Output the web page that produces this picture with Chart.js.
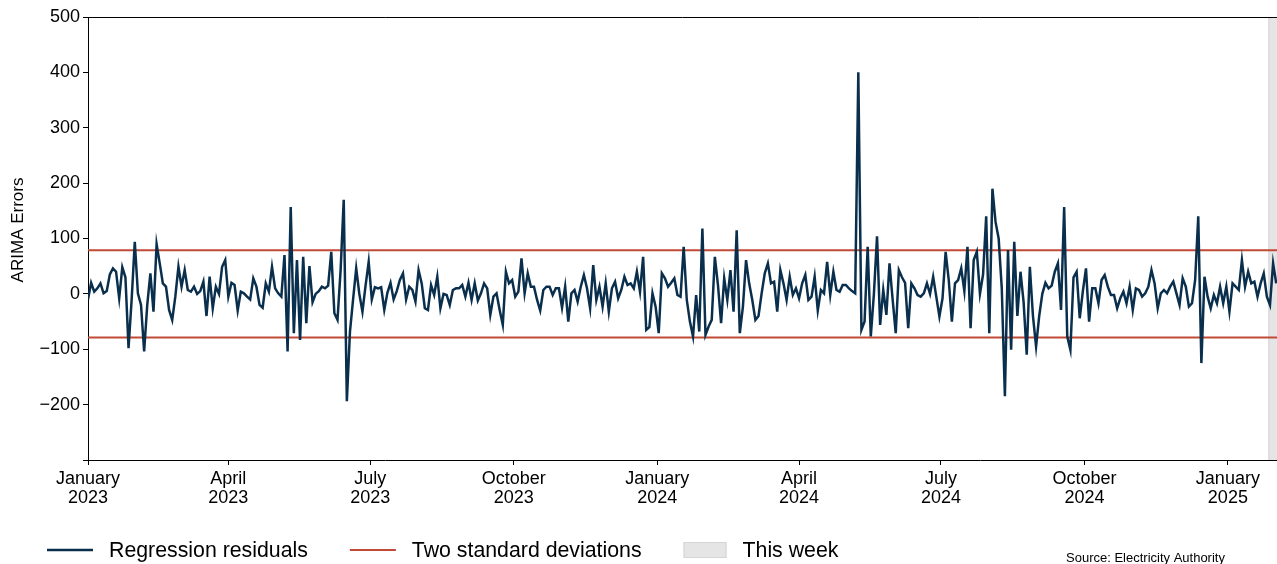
<!DOCTYPE html>
<html>
<head>
<meta charset="utf-8">
<script src="https://cdn.jsdelivr.net/npm/chart.js@4.4.1/dist/chart.umd.min.js"></script>
<style>
  html, body { margin: 0; padding: 0; background: #fff; }
</style>
</head>
<body>
<canvas id="chart" width="1277" height="564"></canvas>
<script>
// ARIMA regression residuals, one reading every second day from 1 Jan 2023
const startDate = '2023-01-01';
const stepDays = 2;
const residuals = [
  -10, 20, 4, 10, 19, 1, 5, 35, 46, 40, -8, 48, 30, -98, -10, 94, 1, -20, -104, -20, 37, -32, 90, 55, 19, 13, -29, -47, -5, 49, 13, 43, 7, 4, 13,
  0, 5, 22, -40, 31, -26, 13, 0, 49, 61, -5, 20, 16, -30, 4, 1, -5, -10, 28, 13, -20, -25, 19, 4, 49, 10, 1, -5, 70, -104, 157, -71, 61, -83, 67,
  -53, 50, -15, 0, 5, 13, 10, 15, 76, -35, -47, 43, 170, -194, -68, -10, 46, 0, -32, 15, 58, -10, 12, 10, 12, -29, 2, 20, -10, 5, 25, 37, -10, 13, 7,
  -14, 43, 19, -26, -29, 16, -2, 31, -26, 0, -2, -20, 7, 10, 10, 16, -5, 20, -11, 19, -12, 1, 19, 10, -38, -5, 1, -29, -56, 40, 19, 25, -5, 4, 64,
  1, 37, 13, 13, -11, -30, 7, 13, 13, -2, 10, 10, -25, 13, -50, 1, 7, -14, 13, 34, 10, -26, 52, -11, 13, -23, 19, -32, 10, 22, -8, 7, 31, 16, 19,
  10, 40, 4, 67, -65, -60, 1, -23, -71, 37, 28, 13, 20, 28, -2, -5, 85, -11, -50, -77, -2, -68, 118, -74, -59, -47, 67, 16, -53, 28, -11, 43, -32, 115, -71,
  -23, 61, 19, -11, -47, -40, 1, 37, 55, 19, 22, -32, 43, 19, -11, 31, -2, 10, -8, 19, 34, -11, -5, 31, -30, 7, 1, 58, -2, 40, 7, 4, 16, 16, 10,
  5, 1, 400, -65, -50, 85, -77, 0, 104, -56, 7, -38, 55, -10, -71, 43, 30, 20, -62, 19, 10, -2, -5, 1, 19, 0, 31, -5, -41, -8, 76, 25, -50, 19, 25,
  46, 5, 85, -62, 61, 76, 0, 35, 140, -71, 190, 130, 100, 10, -185, 79, -101, 94, -40, 40, -15, -110, 49, -40, -95, -40, 0, 20, 10, 15, 40, 55, -29, 157, -77,
  -101, 30, 40, -44, 5, 46, -50, 10, 10, -17, 25, 34, 13, -2, -2, -26, -8, 4, -17, 13, -29, 10, 7, -5, 1, 13, 43, 19, -26, 1, 7, 1, 13, 22, 1,
  -20, 28, 13, -23, -17, 25, 140, -125, 31, -5, -26, -2, -17, 13, -17, 13, -32, 19, 13, 7, 61, 13, 40, 19, 22, -5, 19, 37, -5, -20, 55, 19
];
const twoSd = 79;
const weekDates = ['2025-01-27', '2025-02-02'];
const tickDates = ['2023-01-01', '2023-04-01', '2023-07-01', '2023-10-01', '2024-01-01', '2024-04-01', '2024-07-01', '2024-10-01', '2025-01-01'];
const monthNames = ['January', 'February', 'March', 'April', 'May', 'June', 'July', 'August', 'September', 'October', 'November', 'December'];
const yMin = -300, yMax = 500, yStep = 100;

const NAVY = '#0a2f4d';
const RED = '#c04a36';
const BAND = '#e5e5e5';
const FONT = "'Liberation Sans', Arial, Helvetica, sans-serif";

const dayOf = s => (Date.parse(s + 'T00:00:00Z') - Date.parse(startDate + 'T00:00:00Z')) / 86400000;
const tickDays = tickDates.map(dayOf);
const tickLabels = tickDates.map(s => [monthNames[+s.slice(5, 7) - 1], s.slice(0, 4)]);

const points = residuals.map((v, i) => ({ x: i * stepDays, y: v }));
const xMin = 0;
const xMax = points[points.length - 1].x + 0.5;

// grey band for the current week, drawn under the lines
const weekBand = {
  id: 'weekBand',
  beforeDatasetsDraw(chart) {
    const { ctx, chartArea: a, scales: { x } } = chart;
    const x0 = Math.max(x.getPixelForValue(dayOf(weekDates[0])), a.left);
    const x1 = Math.min(x.getPixelForValue(dayOf(weekDates[1])), a.right);
    ctx.save();
    ctx.fillStyle = BAND;
    ctx.fillRect(x0, a.top, x1 - x0, a.bottom - a.top);
    ctx.strokeStyle = '#d4d4d4';
    ctx.lineWidth = 1;
    ctx.beginPath();
    ctx.moveTo(x0 + 0.5, a.top);
    ctx.lineTo(x0 + 0.5, a.bottom);
    ctx.stroke();
    ctx.restore();
  }
};

// top spine, y title, legend row and source note
const frame = {
  id: 'frame',
  afterDraw(chart) {
    const { ctx, chartArea: a } = chart;
    ctx.save();
    ctx.strokeStyle = '#000';
    ctx.lineWidth = 1;
    ctx.beginPath();
    ctx.moveTo(a.left, a.top + 0.5);
    ctx.lineTo(a.right, a.top + 0.5);
    ctx.stroke();

    ctx.save();
    ctx.translate(18, 230);
    ctx.rotate(-Math.PI / 2);
    ctx.font = '17px ' + FONT;
    ctx.fillStyle = '#000';
    ctx.textAlign = 'center';
    ctx.textBaseline = 'middle';
    ctx.fillText('ARIMA Errors', 0, 0);
    ctx.restore();

    const items = [
      { text: chart.data.datasets[0].label, color: NAVY, kind: 'line', w: 2.4 },
      { text: chart.data.datasets[1].label, color: RED, kind: 'line', w: 2 },
      { text: 'This week', color: BAND, kind: 'box' }
    ];
    ctx.font = '21.3px ' + FONT;
    ctx.textBaseline = 'middle';
    ctx.textAlign = 'left';
    const cy = 550;
    let x = 47;
    items.forEach(it => {
      if (it.kind === 'line') {
        ctx.strokeStyle = it.color;
        ctx.lineWidth = it.w;
        ctx.beginPath();
        ctx.moveTo(x, cy);
        ctx.lineTo(x + 46, cy);
        ctx.stroke();
      } else {
        ctx.fillStyle = it.color;
        ctx.fillRect(x, cy - 8, 43, 16);
        ctx.strokeStyle = '#d4d4d4';
        ctx.lineWidth = 1;
        ctx.strokeRect(x + 0.5, cy - 7.5, 42, 15);
      }
      const tx = x + (it.kind === 'line' ? 62 : 59);
      ctx.fillStyle = '#000';
      ctx.fillText(it.text, tx, cy + 1);
      x = tx + ctx.measureText(it.text).width + 42;
    });

    ctx.font = '13px ' + FONT;
    ctx.textBaseline = 'alphabetic';
    ctx.fillText('Source: Electricity Authority', 1066, 562);
    ctx.restore();
  }
};

const fmt = v => (v < 0 ? '\u2212' + Math.abs(v) : String(v));

new Chart(document.getElementById('chart'), {
  type: 'line',
  data: {
    datasets: [
      {
        label: 'Regression residuals',
        data: points,
        borderColor: NAVY,
        borderWidth: 2.5,
        pointRadius: 0,
        tension: 0,
        order: 0
      },
      {
        label: 'Two standard deviations',
        data: [{ x: xMin, y: twoSd }, { x: xMax, y: twoSd }],
        borderColor: RED,
        borderWidth: 2,
        pointRadius: 0,
        order: 1
      },
      {
        label: 'lower',
        data: [{ x: xMin, y: -twoSd }, { x: xMax, y: -twoSd }],
        borderColor: RED,
        borderWidth: 2,
        pointRadius: 0,
        order: 1
      }
    ]
  },
  options: {
    responsive: false,
    animation: false,
    devicePixelRatio: 1,
    layout: { padding: { top: 17, right: 0, bottom: 0, left: 0 } },
    plugins: {
      legend: { display: false },
      tooltip: { enabled: false }
    },
    scales: {
      x: {
        type: 'linear',
        min: xMin,
        max: xMax,
        afterBuildTicks: s => { s.ticks = tickDays.map(v => ({ value: v })); },
        afterFit: s => { s.height = 104; },
        ticks: {
          autoSkip: false,
          maxRotation: 0,
          padding: 4,
          color: '#000',
          font: { family: FONT, size: 18, lineHeight: 1.08 },
          callback: v => tickLabels[tickDays.indexOf(v)]
        },
        grid: { drawOnChartArea: false, tickLength: 5, color: '#000' },
        border: { color: '#000', width: 1 }
      },
      y: {
        min: yMin,
        max: yMax,
        afterFit: s => { s.width = 88; },
        ticks: {
          stepSize: yStep,
          padding: 3,
          color: '#000',
          font: { family: FONT, size: 18 },
          callback: v => (v === yMin ? '' : fmt(v))
        },
        grid: { drawOnChartArea: false, tickLength: 5, color: '#000' },
        border: { color: '#000', width: 1 }
      }
    }
  },
  plugins: [weekBand, frame]
});
</script>
</body>
</html>
